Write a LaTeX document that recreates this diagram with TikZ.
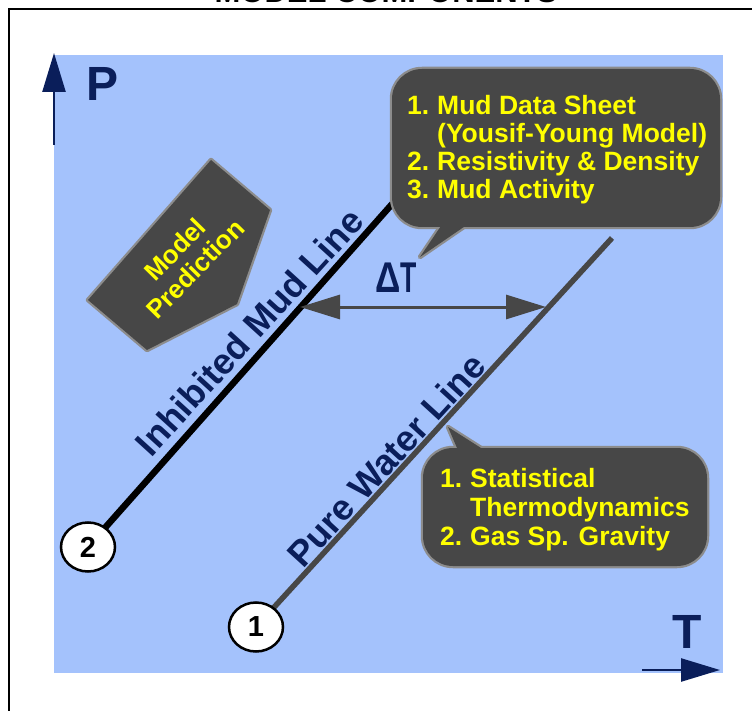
\documentclass[tikz,border=0pt]{standalone}
\usepackage{fontspec}
\setmainfont{Liberation Sans}
\usetikzlibrary{arrows.meta,shapes.geometric}
\definecolor{bgblue}{RGB}{164,194,252}
\definecolor{navy}{RGB}{10,30,90}
\definecolor{boxgray}{RGB}{71,71,71}
\definecolor{rimgray}{RGB}{140,140,140}
\definecolor{txtyellow}{RGB}{255,255,0}
\begin{document}
\begin{tikzpicture}[x=1pt,y=1pt,
  calloutrim/.style={draw=rimgray, line width=4.5pt, line join=round},
  calloutfill/.style={fill=boxgray},
  axisarrow/.style={draw=navy, line width=2.5pt, -{Triangle[length=39pt,width=23pt]}},
  dtarrow/.style={draw=boxgray, line width=3pt, {Triangle[length=40pt,width=24pt]}-{Triangle[length=40pt,width=24pt]}},
  mudline/.style={draw=black, line width=6.5pt},
  waterline/.style={draw=boxgray, line width=5.5pt},
  numcircle/.style={ellipse, draw=black, fill=white, line width=2.5pt, minimum width=54pt, minimum height=49pt, inner sep=0pt, font=\fontsize{29}{29}\selectfont\bfseries},
  axislabel/.style={text=navy, inner sep=0pt, font=\fontsize{48}{48}\selectfont\bfseries},
  linelabel/.style={text=navy, inner sep=0pt, font=\fontsize{36}{36}\selectfont\bfseries},
  callouttext/.style={text=txtyellow, inner sep=0pt, anchor=base west},
]
\useasboundingbox (0,0) rectangle (752,-711);
\clip (0,0) rectangle (752,-711);
% title (mostly cut off)
\node[inner sep=0pt, anchor=base, font=\fontsize{31}{31}\selectfont\bfseries] (title) at (386,-3) {MODEL COMPONENTS};
% frame
\draw[line width=2.7pt] (9,-730) -- (9,-9) -- (770,-9);
% background
\fill[bgblue] (54,-55) rectangle (723,-673);
% axes
\coordinate (pbot) at (54,-145);
\coordinate (ptop) at (54,-53);
\draw[axisarrow] (pbot) -- (ptop);
\node[axislabel] (plabel) at (103,-84) {P};
\coordinate (tleft) at (642,-670);
\coordinate (tright) at (720,-670);
\draw[axisarrow] (tleft) -- (tright);
\node[axislabel] (tlabel) at (687,-632) {T};
% model prediction pentagon
\path[calloutrim] (211,-160) -- (270,-210) -- (237,-304) -- (147,-350) -- (88,-300) -- cycle;
\path[calloutfill] (211,-160) -- (270,-210) -- (237,-304) -- (147,-350) -- (88,-300) -- cycle;
\node[text=txtyellow, inner sep=0pt, rotate=45.5, align=center, font=\fontsize{26}{28}\selectfont\bfseries] (pred) at (185,-259) {Model\\Prediction};
% lines
\coordinate (c2) at (88,-547);
\coordinate (mudtop) at (393,-203);
\draw[mudline] (c2) -- (mudtop);
\coordinate (c1) at (256,-627);
\coordinate (watertop) at (612,-238);
\draw[waterline] (c1) -- (watertop);
\node[linelabel, rotate=47.7] (mudlabel) at (249,-332) {Inhibited Mud Line};
\node[linelabel, rotate=47.5] (waterlabel) at (386,-460) {Pure Water Line};
\node[numcircle] (n2) at (c2) {2};
\node[numcircle] (n1) at (c1) {1};
% delta T
\coordinate (dl) at (300,-307);
\coordinate (dr) at (546,-307);
\draw[dtarrow] (dl) -- (dr);
\node[text=navy, inner sep=0pt, font=\fontsize{43}{43}\selectfont\bfseries] (dtlabel) at (396,-278) {\scalebox{0.82}[1]{Δ}\scalebox{0.62}[1]{T}};
% top callout
\path[calloutrim, rounded corners=30pt] (392,-69) rectangle (720,-227);
\path[calloutrim] (445,-220) -- (420,-257) -- (474,-220) -- cycle;
\path[calloutfill, rounded corners=30pt] (392,-69) rectangle (720,-227);
\path[calloutfill] (445,-220) -- (420,-257) -- (474,-220) -- cycle;
\node[callouttext] (mudbox) at (407,-115) {\fontsize{26.5}{27.7}\selectfont\bfseries
  \begin{tabular}[t]{@{}l@{}l@{}}
  \makebox[30pt][l]{1.} & Mud Data Sheet\\
   & (Yousif-Young Model)\\
  \makebox[30pt][l]{2.} & Resistivity \& Density\\
  \makebox[30pt][l]{3.} & Mud Activity
  \end{tabular}};
% bottom callout
\path[calloutrim, rounded corners=30pt] (423,-448) rectangle (707,-566);
\path[calloutrim] (460,-455) -- (448,-427) -- (492,-455) -- cycle;
\path[calloutfill, rounded corners=30pt] (423,-448) rectangle (707,-566);
\path[calloutfill] (460,-455) -- (448,-427) -- (492,-455) -- cycle;
\node[callouttext] (waterbox) at (440,-487) {\fontsize{26.5}{29}\selectfont\bfseries
  \begin{tabular}[t]{@{}l@{}l@{}}
  \makebox[30pt][l]{1.} & Statistical\\
   & Thermodynamics\\
  \makebox[30pt][l]{2.} & Gas Sp. Gravity
  \end{tabular}};
\end{tikzpicture}
\end{document}
